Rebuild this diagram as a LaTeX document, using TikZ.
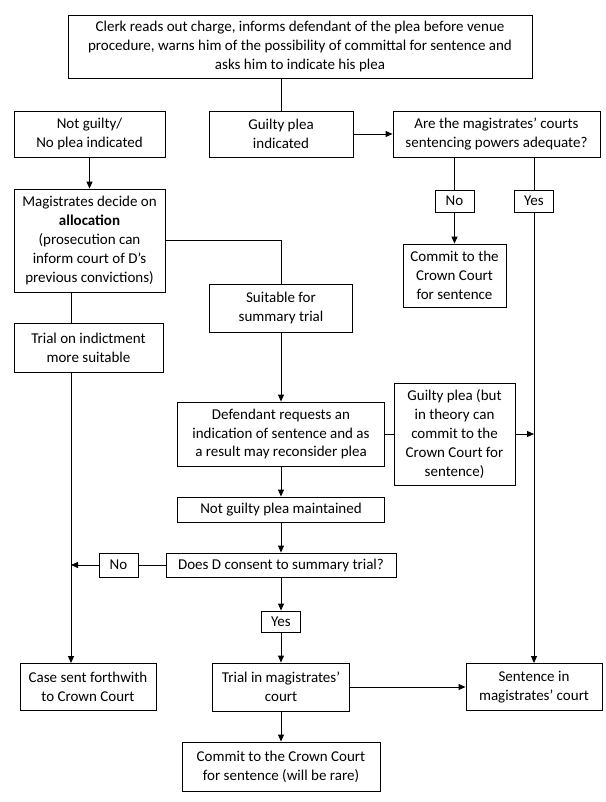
\documentclass[tikz,border=0pt]{standalone}
\usepackage{fontspec}
\setmainfont{Carlito}
\usetikzlibrary{arrows.meta}
\begin{document}
\begin{tikzpicture}[x=1bp,y=-1bp,
  box/.style={draw,line width=0.9bp,align=center,inner sep=0pt,
    font=\fontsize{15bp}{18.8bp}\selectfont},
  link/.style={line width=0.9bp},
  flow/.style={line width=0.9bp,-{Triangle[length=7bp,width=6bp]}}]
\useasboundingbox (0,0) rectangle (606,802);
\fill[white] (0,0) rectangle (606,802);

% column guides
\coordinate (lx) at (71,0);

% boxes (centre, width x height)
\node[box,minimum width=464bp,minimum height=63bp] (top) at (300,46.5)
  {Clerk reads out charge, informs defendant of the plea before venue\\
   procedure, warns him of the possibility of committal for sentence and\\
   asks him to indicate his plea};
\node[box,minimum width=151bp,minimum height=46bp] (notg) at (89.5,134)
  {Not guilty/\\No plea indicated};
\node[box,minimum width=144bp,minimum height=46bp] (guilty) at (281,134)
  {Guilty plea\\indicated};
\node[box,minimum width=207bp,minimum height=46bp] (q) at (496.5,134)
  {Are the magistrates’ courts\\sentencing powers adequate?};
\node[box,minimum width=39bp,minimum height=22bp] (no1) at (454.5,201) {No};
\node[box,minimum width=39bp,minimum height=22bp] (yes1) at (534,201) {Yes};
\node[box,minimum width=103bp,minimum height=63bp] (commit1) at (454.5,275.5)
  {Commit to the\\Crown Court\\for sentence};
\node[box,minimum width=151bp,minimum height=103bp] (mag) at (89.5,240.5)
  {Magistrates decide on\\\textbf{allocation}\\(prosecution can\\inform court of D’s\\previous convictions)};
\node[box,minimum width=143bp,minimum height=48bp] (suit) at (281,308)
  {Suitable for\\summary trial};
\node[box,minimum width=149bp,minimum height=49bp] (trialind) at (88.5,347.5)
  {Trial on indictment\\more suitable};
\node[box,minimum width=207bp,minimum height=64bp] (def) at (281,434)
  {Defendant requests an\\indication of sentence and as\\a result may reconsider plea};
\node[box,minimum width=121bp,minimum height=102bp] (gbut) at (454.5,434)
  {Guilty plea (but\\in theory can\\commit to the\\Crown Court for\\sentence)};
\node[box,minimum width=207bp,minimum height=25bp] (ngm) at (281,509.5)
  {Not guilty plea maintained};
\node[box,minimum width=230bp,minimum height=24bp] (doesd) at (281,565)
  {Does D consent to summary trial?};
\node[box,minimum width=39bp,minimum height=24bp] (no2) at (118.5,565) {No};
\node[box,minimum width=39bp,minimum height=21bp] (yes2) at (281,621.5) {Yes};
\node[box,minimum width=136bp,minimum height=47bp] (case) at (88,687)
  {Case sent forthwith\\to Crown Court};
\node[box,minimum width=137bp,minimum height=48bp] (trialmag) at (281,687)
  {Trial in magistrates’\\court};
\node[box,minimum width=136bp,minimum height=47bp] (sent) at (534,687)
  {Sentence in\\magistrates’ court};
\node[box,minimum width=198bp,minimum height=49bp] (commit2) at (281,766.5)
  {Commit to the Crown Court\\for sentence (will be rare)};

% connectors
\draw[link] (top.south -| guilty) -- (guilty.north);
\draw[flow] (guilty.east) -- (q.west);
\draw[link] (q.south -| no1) -- (no1.north);
\draw[link] (q.south -| yes1) -- (yes1.north);
\draw[flow] (no1.south) -- (commit1.north);
\draw[flow] (yes1.south) -- (sent.north);
\draw[flow] (notg.south) -- (mag.north);
\draw[link] (mag.east) -| (suit.north);
\draw[link] (mag.south -| lx) -- (trialind.north -| lx);
\draw[flow] (trialind.south -| lx) -- (case.north -| lx);
\draw[flow] (suit.south) -- (def.north);
\draw[link] (def.east) -- (gbut.west);
\draw[flow] (gbut.east) -- (gbut.east -| yes1);
\draw[flow] (def.south) -- (ngm.north);
\draw[flow] (ngm.south) -- (doesd.north);
\draw[link] (doesd.west) -- (no2.east);
\draw[flow] (no2.west) -- (no2.west -| lx);
\draw[flow] (doesd.south) -- (yes2.north);
\draw[flow] (yes2.south) -- (trialmag.north);
\draw[flow] (trialmag.east) -- (sent.west);
\draw[flow] (trialmag.south) -- (commit2.north);
\end{tikzpicture}
\end{document}
